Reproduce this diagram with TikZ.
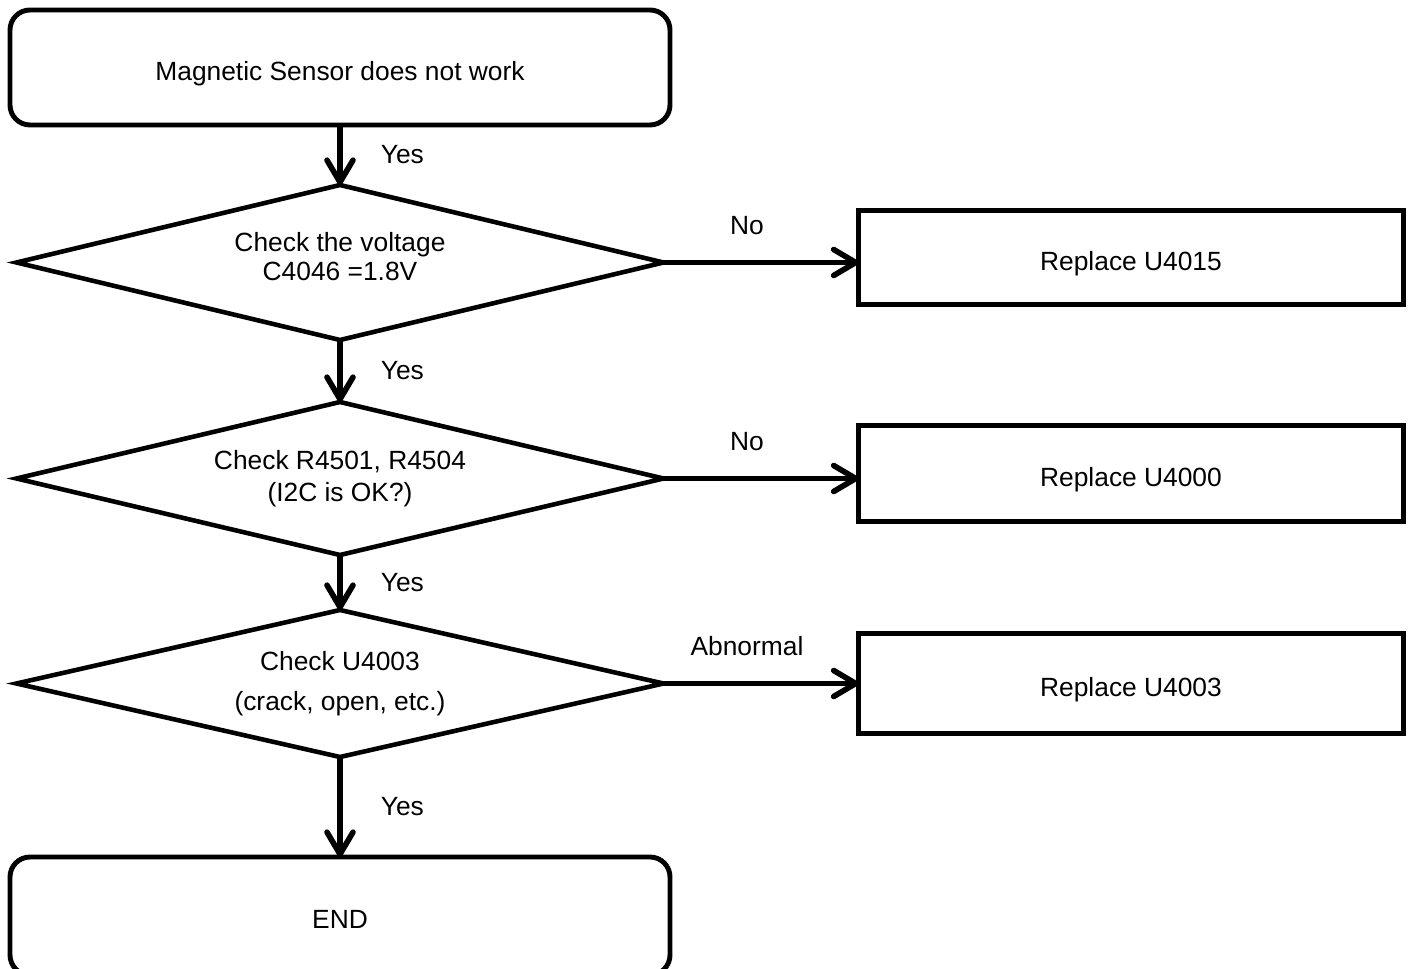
\documentclass[tikz,border=0pt]{standalone}
\usepackage{fontspec}
\setmainfont{Liberation Sans}
\usetikzlibrary{shapes.geometric, positioning, arrows.meta}

\begin{document}
\begin{tikzpicture}[%
    >={Straight Barb[length=4.4mm, width=5.2mm, round]},
    every node/.style={%
      font=\fontsize{15}{18}\selectfont,
      text centered,
      align=center,
      outer sep=0pt
    },
    termbox/.style={draw=black, line width=2.8pt, rounded corners=0.4cm,
      minimum width=13.2cm, text height=0.61cm, text depth=0.1cm},
    checkbox/.style={draw=black, line width=2.6pt, diamond, aspect=4.2,
      minimum width=12.94cm, inner sep=1pt},
    fixbox/.style={draw=black, line width=2.8pt, minimum width=10.9cm,
      text height=0.61cm, text depth=0.1cm},
    flow/.style={->, line width=3.2pt}
  ]

  \useasboundingbox (0,0) rectangle (28.28,-19.38);

  % Main column
  \node[termbox, minimum height=2.3cm] (start) at (6.8,-1.35)
    {Magnetic Sensor does not work};
  \node[checkbox, minimum height=3.1cm, text depth=0.24cm, below=1.2cm of start]
    (c1)
    {Check the voltage\\[-2pt] C4046 =1.8V};
  \node[checkbox, minimum height=3.06cm, below=1.24cm of c1]
    (c2)
    {Check R4501, R4504\\ (I2C is OK?)};
  \node[checkbox, minimum height=2.94cm, below=1.1cm of c2]
    (c3)
    {Check U4003\\[5pt] (crack, open, etc.)};
  \node[termbox, minimum height=2.36cm, below=2.0cm of c3] (stop) {END};

  % Repair boxes
  \node[fixbox, minimum height=1.88cm, right=3.9cm of c1, yshift=0.1cm]
    (r1)
    {Replace U4015};
  \node[fixbox, minimum height=1.92cm, right=3.9cm of c2, yshift=0.1cm]
    (r2)
    {Replace U4000};
  \node[fixbox, minimum height=2.0cm, right=3.9cm of c3]
    (r3)
    {Replace U4003};

  % Connectors
  \draw[flow] (start) -- node[right=0.7cm] {Yes} (c1);
  \draw[flow] (c1) -- node[right=0.7cm] {Yes} (c2);
  \draw[flow] (c2) -- node[right=0.7cm] {Yes} (c3);
  \draw[flow] (c3) -- node[right=0.7cm] {Yes} (stop);

  \draw[flow] (c1.east) -- node[above=0.44cm, xshift=-0.28cm] {No}
    (c1.east -| r1.west);
  \draw[flow] (c2.east) -- node[above=0.44cm, xshift=-0.28cm] {No}
    (c2.east -| r2.west);
  \draw[flow] (c3.east) -- node[above=0.44cm, xshift=-0.28cm] {Abnormal}
    (c3.east -| r3.west);

\end{tikzpicture}
\end{document}
